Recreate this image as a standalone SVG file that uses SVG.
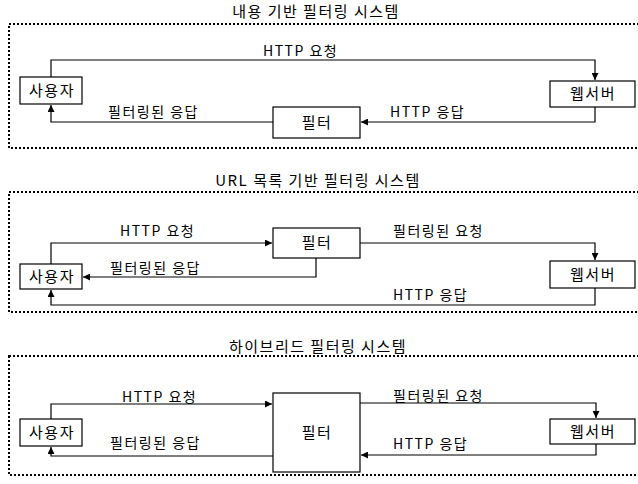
<svg xmlns="http://www.w3.org/2000/svg" width="638" height="484" viewBox="0 0 638 484">
<style>
text{font-family:"Noto Sans CJK KR","Noto Sans",sans-serif;fill:#000}
.t{font-size:15px;letter-spacing:1.5px;text-anchor:middle}
.l{font-size:14px;letter-spacing:1.5px}
.n{font-size:15px;letter-spacing:1.5px;text-anchor:middle}
.box{fill:#fff;stroke:#000;stroke-width:1.2}
.frame{fill:none;stroke:#000;stroke-width:2;stroke-dasharray:2 2}
.c{fill:none;stroke:#000;stroke-width:1.2}
</style>
<defs>
<marker id="ah" viewBox="0 0 8 8" refX="8" refY="4" markerWidth="7" markerHeight="7" markerUnits="userSpaceOnUse" orient="auto">
<path d="M0,0 L8,4 L0,8 z" fill="#000"/>
</marker>
</defs>
<rect width="638" height="484" fill="#fff"/>

<g id="sec1">
<text class="t" x="316" y="17">내용 기반 필터링 시스템</text>
<rect class="frame" x="9" y="24" width="640" height="124"/>
</g>
<g id="sec2">
<text class="t" x="318" y="186">URL 목록 기반 필터링 시스템</text>
<rect class="frame" x="9" y="192" width="640" height="120"/>
</g>
<g id="sec3">
<text class="t" x="318" y="352">하이브리드 필터링 시스템</text>
<rect class="frame" x="9" y="356" width="640" height="119"/>
</g>

<g id="connectors">
<!-- section 1 -->
<path class="c" d="M51,77 V60 H595 V80" marker-end="url(#ah)"/>
<path class="c" d="M595,107 V122 H361" marker-end="url(#ah)"/>
<path class="c" d="M273,122 H51 V105" marker-end="url(#ah)"/>
<!-- section 2 -->
<path class="c" d="M51,264 V243 H272" marker-end="url(#ah)"/>
<path class="c" d="M316,258 V277 H83" marker-end="url(#ah)"/>
<path class="c" d="M360,243 H595 V260" marker-end="url(#ah)"/>
<path class="c" d="M595,288 V305 H51 V290" marker-end="url(#ah)"/>
<!-- section 3 -->
<path class="c" d="M51,419 V404 H272" marker-end="url(#ah)"/>
<path class="c" d="M273,456 H51 V447" marker-end="url(#ah)"/>
<path class="c" d="M360,403 H596 V418" marker-end="url(#ah)"/>
<path class="c" d="M596,444 V455 H361" marker-end="url(#ah)"/>
</g>

<g id="labels">
<text class="l" x="263" y="56">HTTP 요청</text>
<text class="l" x="108" y="117">필터링된 응답</text>
<text class="l" x="390" y="117">HTTP 응답</text>

<text class="l" x="120" y="236">HTTP 요청</text>
<text class="l" x="110" y="273">필터링된 응답</text>
<text class="l" x="393" y="236">필터링된 요청</text>
<text class="l" x="393" y="300">HTTP 응답</text>

<text class="l" x="122" y="402">HTTP 요청</text>
<text class="l" x="110" y="448">필터링된 응답</text>
<text class="l" x="393" y="401">필터링된 요청</text>
<text class="l" x="393" y="449">HTTP 응답</text>
</g>

<g id="user1"><rect class="box" x="20" y="77" width="62" height="27"/><text class="n" x="52" y="96">사용자</text></g>
<g id="filter1"><rect class="box" x="273" y="107" width="87" height="31"/><text class="n" x="317" y="128">필터</text></g>
<g id="web1"><rect class="box" x="550" y="81" width="85" height="26"/><text class="n" x="593" y="99">웹서버</text></g>

<g id="user2"><rect class="box" x="20" y="264" width="62" height="25"/><text class="n" x="52" y="282">사용자</text></g>
<g id="filter2"><rect class="box" x="273" y="228" width="87" height="30"/><text class="n" x="317" y="248">필터</text></g>
<g id="web2"><rect class="box" x="550" y="261" width="85" height="27"/><text class="n" x="593" y="280">웹서버</text></g>

<g id="user3"><rect class="box" x="20" y="419" width="62" height="27"/><text class="n" x="52" y="438">사용자</text></g>
<g id="filter3"><rect class="box" x="273" y="393" width="87" height="79"/><text class="n" x="317" y="438">필터</text></g>
<g id="web3"><rect class="box" x="550" y="419" width="85" height="25"/><text class="n" x="593" y="437">웹서버</text></g>
</svg>
